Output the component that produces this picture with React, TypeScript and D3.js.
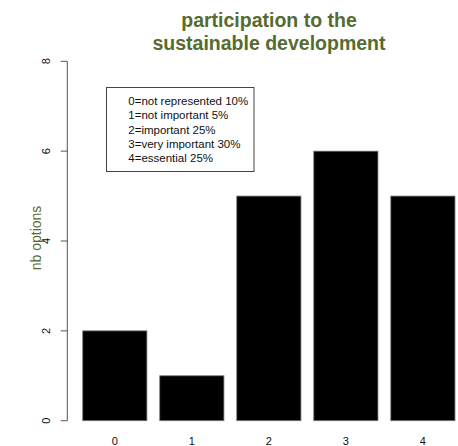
import React, { useRef, useEffect } from 'react';
import * as d3 from 'd3';

const categories = ['0', '1', '2', '3', '4'];
const counts = [2, 1, 5, 6, 5];
const yTicks = [0, 2, 4, 6, 8];
const legendLines = [
  '0=not represented 10%',
  '1=not important 5%',
  '2=important 25%',
  '3=very important 30%',
  '4=essential 25%'
];
const titleLines = ['participation to the', 'sustainable development'];

const App: React.FC = () => {
  const ref = useRef<SVGSVGElement | null>(null);

  useEffect(() => {
    const svg = d3.select(ref.current);
    svg.selectAll('*').remove();
    const width = 458;
    const height = 446;
    const font = 'Liberation Sans, Arial, sans-serif';
    const olive = '#556B2F';

    svg.attr('width', width).attr('height', height);
    svg.append('rect').attr('width', width).attr('height', height).attr('fill', 'white');

    const x = d3.scaleBand<string>()
      .domain(categories)
      .range([76.3, 461.4])
      .paddingInner(0.2 / 1.2)
      .paddingOuter(0.1 / 1.2);
    const y = d3.scaleLinear().domain([0, 8]).range([420.7, 61.3]);

    // bars
    svg.append('g')
      .selectAll('rect')
      .data(counts)
      .join('rect')
      .attr('x', (_, i) => x(categories[i])!)
      .attr('y', (d) => y(d))
      .attr('width', x.bandwidth())
      .attr('height', (d) => y(0) - y(d))
      .attr('fill', 'black')
      .attr('stroke', '#777')
      .attr('stroke-width', 0.8);

    // y axis
    const axisX = 67.3;
    const ya = svg.append('g').attr('stroke', '#555').attr('stroke-width', 1);
    ya.append('line')
      .attr('x1', axisX).attr('x2', axisX)
      .attr('y1', y(0)).attr('y2', y(8));
    ya.selectAll('line.tick')
      .data(yTicks)
      .join('line')
      .attr('class', 'tick')
      .attr('x1', axisX - 6.6).attr('x2', axisX)
      .attr('y1', (d) => y(d)).attr('y2', (d) => y(d));

    svg.append('g')
      .selectAll('text')
      .data(yTicks)
      .join('text')
      .attr('transform', (d) => `translate(50,${y(d)}) rotate(-90)`)
      .attr('text-anchor', 'middle')
      .attr('font-family', font)
      .attr('font-size', 11)
      .attr('fill', '#111')
      .text((d) => d);

    // x labels
    svg.append('g')
      .selectAll('text')
      .data(categories)
      .join('text')
      .attr('x', (d) => x(d)! + x.bandwidth() / 2)
      .attr('y', 445)
      .attr('text-anchor', 'middle')
      .attr('font-family', font)
      .attr('font-size', 11)
      .attr('fill', '#111')
      .text((d) => d);

    // y label
    svg.append('text')
      .attr('transform', `translate(41,238) rotate(-90)`)
      .attr('text-anchor', 'middle')
      .attr('font-family', font)
      .attr('font-size', 14)
      .attr('fill', olive)
      .text('nb options');

    // title
    svg.append('g')
      .selectAll('text')
      .data(titleLines)
      .join('text')
      .attr('x', 269)
      .attr('y', (_, i) => 27 + i * 23)
      .attr('text-anchor', 'middle')
      .attr('font-family', font)
      .attr('font-weight', 'bold')
      .attr('font-size', 19.5)
      .attr('fill', olive)
      .text((d) => d);

    // legend box
    svg.append('rect')
      .attr('x', 106.5).attr('y', 87.5)
      .attr('width', 147.5).attr('height', 84)
      .attr('fill', 'white')
      .attr('stroke', '#444')
      .attr('stroke-width', 1);
    svg.append('g')
      .selectAll('text')
      .data(legendLines)
      .join('text')
      .attr('x', 128.3)
      .attr('y', (_, i) => 105 + i * 14.3)
      .attr('font-family', font)
      .attr('font-size', 11.5)
      .attr('fill', '#111')
      .text((d) => d);
  }, []);

  return (
    <div style={{ position: 'absolute', left: 0, top: 0 }}>
      <svg ref={ref} style={{ display: 'block' }} />
    </div>
  );
};

export default App;
